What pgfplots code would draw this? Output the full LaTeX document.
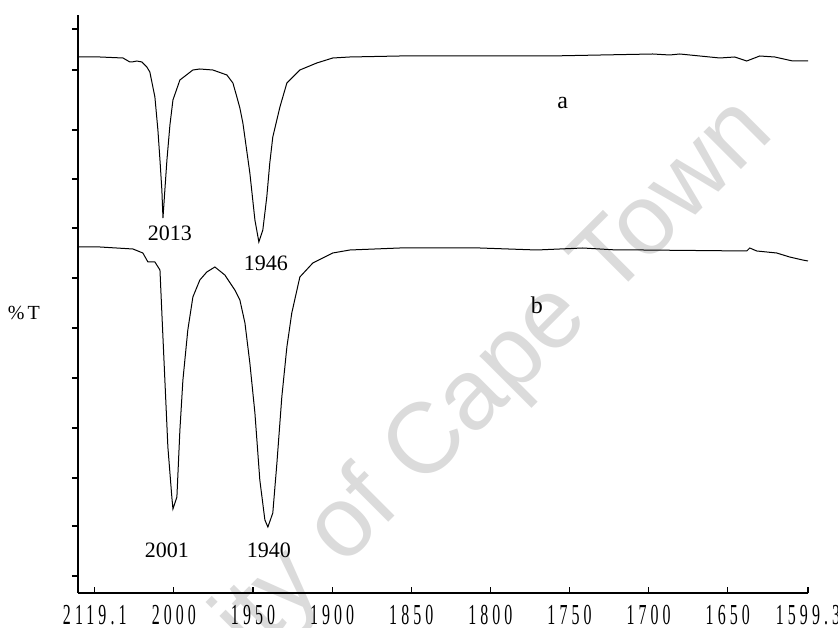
\documentclass[border=0pt]{standalone}
\usepackage{pgfplots}
\pgfplotsset{compat=1.18}
\usepackage{fontspec}
\setmainfont{Liberation Serif}
\newfontfamily\tickfont[FakeStretch=0.55,LetterSpace=14]{Liberation Serif}
\newfontfamily\wmfont{Liberation Sans}
\begin{document}
\begin{tikzpicture}
\useasboundingbox (-78pt,-35pt) rectangle (760pt,593pt);
\node[rotate=45, anchor=base east, text=black!14, font=\wmfont\fontsize{100}{100}\selectfont] at (700pt,460pt) {University of Cape Town};
\begin{axis}[
  at={(0pt,0pt)}, anchor=south west,
  scale only axis, width=730pt, height=578pt,
  x dir=reverse,
  xmin=1599.3, xmax=2060.6,
  ymin=0, ymax=578,
  axis x line*=bottom, axis y line*=left,
  axis line style={line width=1.4pt, -},
  xtick={2060.6,2050,2000,1950,1900,1850,1800,1750,1700,1650,1599.3},
  xticklabels={,2119.1,2000,1950,1900,1850,1800,1750,1700,1650,1599.3},
  xtick align=inside,
  ytick={17,67,115,165,215,265,315,365,414,463,523,564},
  yticklabels={},
  ytick align=outside,
  major tick length=6pt,
  tick style={line width=1.2pt, black},
  xticklabel style={font=\tickfont\fontsize{29}{29}\selectfont, yshift=-9pt},
  clip=false,
]
\addplot[black, line width=1.0pt] coordinates {
(2060.6,536) (2046.7,536) (2032.2,535) (2027.8,531) (2026.5,531) (2023.4,532) (2020.2,531)
(2017.1,526) (2015.2,521) (2012.0,496) (2010.1,463) (2008.8,433) (2007.6,403) (2006.9,375)
(2005.7,403) (2004.4,433) (2002.5,468) (2000.6,493) (1996.2,513) (1988.0,523) (1983.6,524)
(1975.4,523) (1966.5,518) (1962.7,510) (1960.2,496) (1958.3,485) (1956.4,470) (1952.0,420)
(1948.8,373) (1946.3,351) (1943.8,363) (1941.3,396) (1939.4,430) (1937.5,456) (1933.0,486)
(1928.6,510) (1920.4,523) (1909.7,530) (1899.6,535) (1888.8,536) (1857.2,537) (1806.7,537)
(1762.5,537) (1697.4,539) (1686.7,538) (1680.4,539) (1667.7,537) (1655.1,535) (1645.6,536)
(1638.0,532) (1629.8,537) (1620.3,536) (1609.0,532) (1599.3,532)
};
\addplot[black, line width=1.0pt] coordinates {
(2060.6,346) (2046.7,346) (2025.9,344) (2019.6,340) (2016.4,331) (2012.0,331) (2008.8,323)
(2007.6,280) (2005.7,213) (2003.8,146) (2001.3,96) (2000.6,84) (1998.1,96) (1996.2,163)
(1994.3,213) (1991.2,263) (1988.0,296) (1983.6,313) (1979.2,321) (1974.1,326) (1967.8,318)
(1961.5,303) (1958.3,293) (1955.1,270) (1952.0,230) (1948.8,180) (1945.7,113) (1942.5,73)
(1940.6,66) (1937.5,80) (1934.9,130) (1931.8,196) (1928.6,246) (1925.5,280) (1920.4,316)
(1912.2,330) (1899.6,340) (1888.8,343) (1857.2,345) (1806.7,345) (1770.7,343) (1741.6,345)
(1720.2,343) (1703.7,343) (1638.0,342) (1636.1,345) (1631.7,342) (1619.1,340) (1610.9,336)
(1602.7,333) (1599.3,332)
};
\node[font=\fontsize{22}{22}\selectfont] at (axis cs:2002.5,360) {2013};
\node[font=\fontsize{22}{22}\selectfont] at (axis cs:1941.9,330) {1946};
\node[font=\fontsize{22}{22}\selectfont] at (axis cs:2004.4,43) {2001};
\node[font=\fontsize{22}{22}\selectfont] at (axis cs:1940.0,43) {1940};
\node[font=\fontsize{24}{24}\selectfont] at (axis cs:1754.3,490) {a};
\node[font=\fontsize{24}{24}\selectfont] at (axis cs:1770.7,288) {b};
\node[font=\fontsize{20}{20}\selectfont] at (axis cs:2094.8,280) {\%\,T};
\end{axis}
\end{tikzpicture}
\end{document}
